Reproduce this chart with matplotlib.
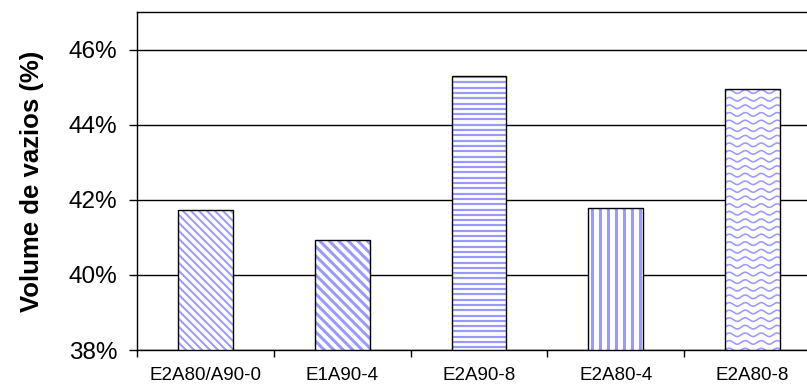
import numpy as np
import matplotlib
matplotlib.use('Agg')
import matplotlib.pyplot as plt
from matplotlib.ticker import FixedLocator, FuncFormatter

plt.rcParams['font.family'] = ['Liberation Sans', 'DejaVu Sans']

categories = ['E2A80/A90-0', 'E1A90-4', 'E2A90-8', 'E2A80-4', 'E2A80-8']
values = [41.72, 40.92, 45.30, 41.78, 44.95]   # %
# fill style per bar: kind, spacing (px), line width (px)
fills = [('diag', 8.0, 2.0), ('diag', 9.5, 3.0), ('horiz', 5.3, 2.2),
         ('vert', 8.0, 3.0), ('wave', 7.6, 1.6)]
blue = '#9999ff'

W, H = 807, 386
ax_box = [137, 36, 684, 338]   # left, bottom, width, height in px
ymin, ymax = 38, 47

fig = plt.figure(figsize=(W / 100, H / 100), dpi=100)
ax = fig.add_axes([ax_box[0] / W, ax_box[1] / H, ax_box[2] / W, ax_box[3] / H])

px_x = len(categories) / ax_box[2]        # data units per pixel
px_y = (ymax - ymin) / ax_box[3]
lw_pt = 0.72                              # points per pixel

x = np.arange(len(categories))
width = 0.40
for i, v in enumerate(values):
    b = ax.bar(x[i], v - ymin, bottom=ymin, width=width, facecolor='white',
               edgecolor='none', linewidth=0, zorder=3)[0]
    kind, sp, lw = fills[i]
    x0, x1 = x[i] - width / 2, x[i] + width / 2
    lines = []
    if kind == 'horiz':
        for yy in np.arange(ymin + sp * px_y / 2, v, sp * px_y):
            lines.append(([x0, x1], [yy, yy]))
    elif kind == 'vert':
        for xx in np.arange(x0 + sp * px_x / 2, x1, sp * px_x):
            lines.append(([xx, xx], [ymin, v]))
    elif kind == 'diag':
        hpx = (v - ymin) / px_y
        wpx = width / px_x
        for c in np.arange(-hpx, wpx, sp):
            # line going down to the right, 45 degrees in pixel space
            xs = np.array([c, c + 2 * hpx]) * px_x + x0
            ys = np.array([v, v - 2 * hpx * px_y])
            lines.append((xs, ys))
    elif kind == 'wave':
        xs = np.linspace(x0, x1, 200)
        for y0 in np.arange(ymin, v + 1, sp * px_y):
            ys = y0 + 1.8 * px_y * np.sin(2 * np.pi * (xs - x0) / (16 * px_x))
            lines.append((xs, ys))
    for xs, ys in lines:
        ln, = ax.plot(xs, ys, color=blue, lw=lw * lw_pt, zorder=3.5,
                      solid_capstyle='butt')
        ln.set_clip_path(b)
    ax.bar(x[i], v - ymin, bottom=ymin, width=width, facecolor='none',
           edgecolor='black', linewidth=1.0, zorder=4)

ax.set_xlim(-0.5, len(categories) - 0.5)
ax.set_ylim(ymin, ymax)
ax.set_yticks([38, 40, 42, 44, 46])
ax.yaxis.set_major_formatter(FuncFormatter(lambda v, p: f'{v:.0f}%'))
ax.yaxis.grid(True, color='black', linewidth=1.0, zorder=1)
ax.set_axisbelow(True)

ax.set_xticks(x)
ax.set_xticklabels(categories)
ax.xaxis.set_minor_locator(FixedLocator(np.arange(-0.5, len(categories), 1)))
ax.tick_params(axis='x', which='major', length=0, pad=12, labelsize=13.5)
ax.tick_params(axis='x', which='minor', length=5, width=1, direction='out')
ax.tick_params(axis='y', length=6, width=1, direction='out', pad=8, labelsize=17.5)

for s in ax.spines.values():
    s.set_color('black')
    s.set_linewidth(1.0)

ax.set_ylabel('Volume de vazios (%)', fontsize=18.5, fontweight='bold', labelpad=18)

fig.savefig('out.png', dpi=100)
